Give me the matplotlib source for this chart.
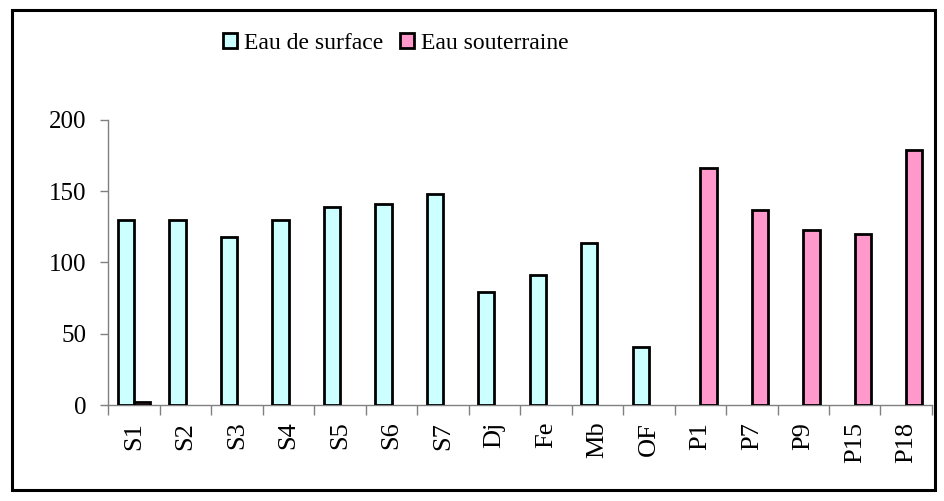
import numpy as np
import matplotlib.pyplot as plt
from matplotlib.patches import Rectangle

plt.rcParams['font.family'] = ['Liberation Serif', 'DejaVu Serif']

# sampling points and measured values for both water types
stations = ['S1', 'S2', 'S3', 'S4', 'S5', 'S6', 'S7', 'Dj', 'Fe', 'Mb', 'OF',
            'P1', 'P7', 'P9', 'P15', 'P18']
surface = [130, 130, 118, 130, 139, 141, 148, 79, 91, 114, 41,
           0, 0, 0, 0, 0]
souterraine = [2, 0, 0, 0, 0, 0, 0, 0, 0, 0, 0,
               166, 137, 123, 120, 179]
y_ticks = [0, 50, 100, 150, 200]

fig = plt.figure(figsize=(9.45, 5.01), dpi=100)
ax = fig.add_axes([0.1148, 0.1916, 0.8714, 0.5689])

x = np.arange(len(stations))
width = 0.315
surface = np.array(surface, dtype=float)
souterraine = np.array(souterraine, dtype=float)

# zero values are not drawn at all
m1 = surface > 0
m2 = souterraine > 0
ax.bar(x[m1] - width / 2, surface[m1], width, color='#CCFFFF',
       edgecolor='black', linewidth=2, label='Eau de surface', zorder=3)
ax.bar(x[m2] + width / 2, souterraine[m2], width, color='#FF99CC',
       edgecolor='black', linewidth=2, label='Eau souterraine', zorder=3)

ax.set_xlim(-0.5, len(stations) - 0.5)
ax.set_ylim(0, 200)
ax.set_yticks(y_ticks)
ax.tick_params(axis='y', labelsize=18, length=6, width=1, color='#808080',
               pad=10)

# category labels sit between the boundary ticks
ax.set_xticks(np.arange(len(stations) + 1) - 0.5)
ax.set_xticklabels([])
ax.set_xticks(x, minor=True)
ax.set_xticklabels(stations, minor=True, rotation=90, fontsize=19)
ax.tick_params(axis='x', which='major', length=7, width=1, color='#808080')
ax.tick_params(axis='x', which='minor', length=0, pad=12)

for side in ['top', 'right']:
    ax.spines[side].set_visible(False)
for side in ['left', 'bottom']:
    ax.spines[side].set_color('#808080')
    ax.spines[side].set_linewidth(1)

fig.legend(loc='center', bbox_to_anchor=(0.419, 0.913), ncol=2, frameon=False,
           fontsize=17, handlelength=0.6, handleheight=0.6, handletextpad=0.3,
           columnspacing=0.7)

# outer chart border
fig.patches.append(Rectangle((12 / 945, 11 / 501), 923 / 945, 480 / 501,
                             transform=fig.transFigure, fill=False,
                             edgecolor='black', linewidth=2.2))

fig.savefig('out.png', dpi=100)
